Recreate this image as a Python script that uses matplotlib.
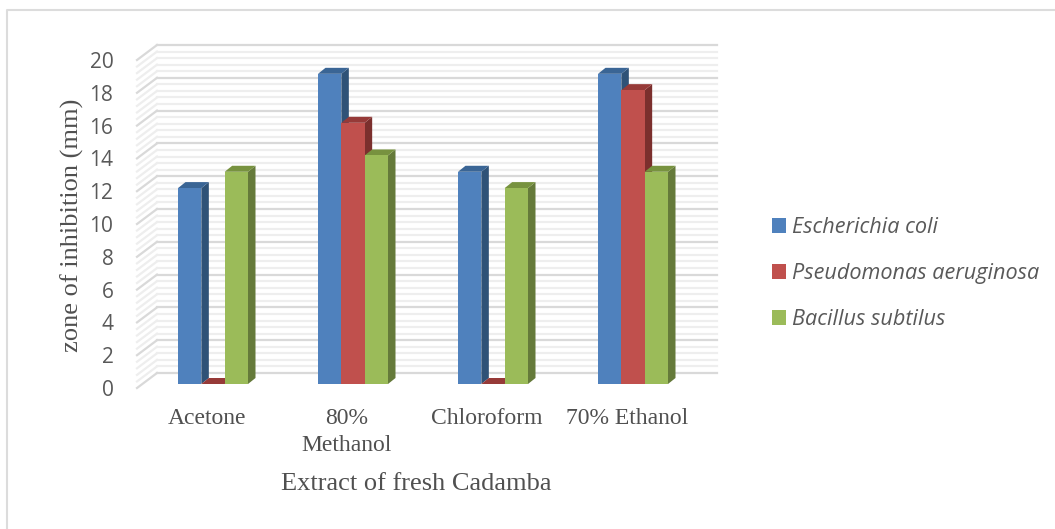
import matplotlib
matplotlib.use("Agg")
import matplotlib.pyplot as plt
import numpy as np
from matplotlib.lines import Line2D
from matplotlib.patches import Polygon, Patch
from matplotlib.transforms import IdentityTransform

categories = ["Acetone", "80%\nMethanol", "Chloroform", "70% Ethanol"]
series_names = ["Escherichia coli", "Pseudomonas aeruginosa", "Bacillus subtilus"]
e_coli = [12, 19, 13, 19]
p_aeruginosa = [0, 16, 0, 18]
b_subtilus = [13, 14, 12, 13]
front_colors = ["#4f81bd", "#c0504d", "#9bbb59"]
side_colors = ["#2f5277", "#7b2f2d", "#657a3a"]
top_colors = ["#3a6595", "#963a38", "#77923f"]
y_ticks = list(range(0, 21, 2))

W, H = 1055, 529
fig = plt.figure(figsize=(W / 100, H / 100), dpi=100)
SERIF = "Liberation Serif"
SANS = "Open Sans"
GREY = "#595959"
TEXT = "#505050"

def axes_px(x0, x1, ybot, ytop):
    return fig.add_axes([x0 / W, 1 - ybot / H, (x1 - x0) / W, (ybot - ytop) / H])

# chart border
fig.add_artist(Line2D([7 / W, 7 / W, 1], [0, 1 - 10 / H, 1 - 10 / H], color="#dcdcdc", lw=1.5,
                      transform=fig.transFigure))

# back wall
ax_back = axes_px(157, 717, 373, 45)
ax_back.set_xlim(-0.5, 3.5)
ax_back.set_ylim(0, 20)
ax_back.axis("off")
minor = np.arange(0, 20.01, 0.4)
for v in minor:
    major = abs(v / 2 - round(v / 2)) < 1e-6
    col, lw = ("#d9d9d9", 1.6) if major else ("#eeeeee", 1.6)
    ax_back.plot([-0.5, 3.5], [v, v], color=col, lw=lw, zorder=3 if major else 2, clip_on=False)
    p = ax_back.transData.transform((-0.5, v))
    ax_back.add_line(Line2D([p[0], p[0] - 20], [p[1], p[1] - 15], color=col, lw=lw,
                            transform=IdentityTransform(), zorder=3 if major else 2, clip_on=False))

# front plane: tick labels and titles
ax_front = axes_px(137, 697, 388, 60)
ax_front.patch.set_alpha(0)
ax_front.set_xlim(-0.5, 3.5)
ax_front.set_ylim(0, 20)
for s in ax_front.spines.values():
    s.set_visible(False)
ax_front.set_xticks(range(len(categories)))
ax_front.set_xticklabels(categories, family=SERIF, fontsize=17, color=TEXT, linespacing=1.35)
ax_front.set_yticks(y_ticks)
ax_front.set_yticklabels([str(v) for v in y_ticks], family=SANS, fontsize=15, color=GREY)
ax_front.tick_params(length=0, axis="y", pad=17)
ax_front.tick_params(length=0, axis="x", pad=14.5)
fig.text(416 / W, 1 - 484 / H, "Extract of fresh Cadamba", family=SERIF, fontsize=19,
         color=TEXT, ha="center", va="center")
fig.text(72 / W, 1 - 225 / H, "zone of inhibition (mm)", family=SERIF, fontsize=19,
         color=TEXT, rotation=90, ha="center", va="center")

# bars
ax = axes_px(143, 703, 384, 57.5)
ax.patch.set_alpha(0)
ax.axis("off")
ax.set_xlim(-0.5, 3.5)
ax.set_ylim(0, 20)
bar_w = 1 / 6
dx, dy = 7.5, 6
for i, vals in enumerate([e_coli, p_aeruginosa, b_subtilus]):
    z = 5 + i
    xs = np.arange(len(categories)) + (i - 1) * bar_w
    ax.bar(xs, vals, width=bar_w, color=front_colors[i], zorder=z + 0.5)
    for x, v in zip(xs, vals):
        l = ax.transData.transform((x - bar_w / 2, v))
        r = ax.transData.transform((x + bar_w / 2, v))
        b = ax.transData.transform((x + bar_w / 2, 0))
        side = [r, r + (dx, dy), b + (dx, dy), b]
        top = [l, r, r + (dx, dy), l + (dx, dy)]
        ax.add_patch(Polygon(side, closed=True, fc=side_colors[i], ec="none",
                             transform=IdentityTransform(), zorder=z, clip_on=False))
        ax.add_patch(Polygon(top, closed=True, fc=top_colors[i], ec="none",
                             transform=IdentityTransform(), zorder=z, clip_on=False))

handles = [Patch(fc=c, ec="none") for c in front_colors]
leg = fig.legend(handles, series_names, loc="center left", bbox_to_anchor=(772 / W, 1 - 273.5 / H),
                 frameon=False, handlelength=0.65, handleheight=0.65, handletextpad=0.27,
                 labelspacing=1.15, borderpad=0, borderaxespad=0,
                 prop={"family": SANS, "style": "italic", "size": 15.6})
for t in leg.get_texts():
    t.set_color(GREY)

fig.savefig("out.png", dpi=100)
